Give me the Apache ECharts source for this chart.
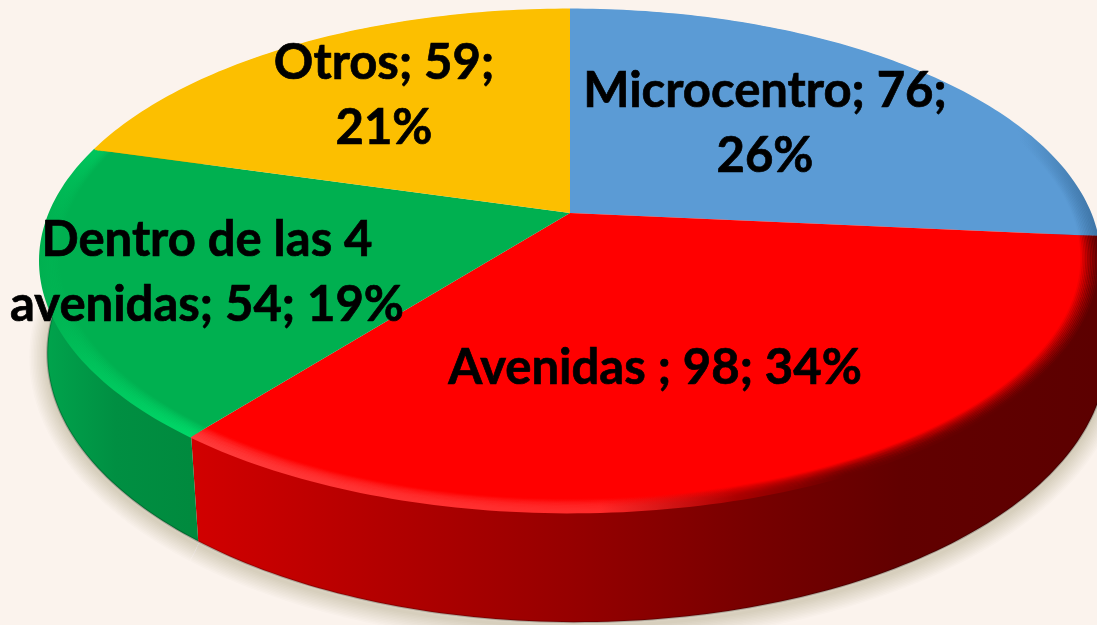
<!DOCTYPE html>
<html>
<head>
<meta charset="utf-8">
<title>Pie</title>
<style>
  html, body { margin: 0; padding: 0; background: #fbf3ed; }
  #chart { width: 1097px; height: 625px; }
</style>
<script src="https://cdn.jsdelivr.net/npm/echarts@6/dist/echarts.min.js"></script>
</head>
<body>
<div id="chart"></div>
<script>
// datos
const categories = ["Microcentro", "Avenidas ", "Dentro de las 4 avenidas", "Otros"];
const values = [76, 98, 54, 59];
const lineBreaks = ["76;", null, "las 4", "59;"];

// colores
const topColors = ["#5b9bd5", "#ff0000", "#00b050", "#fcbf00"];
const wallStops = [
  [[0, "#3f76a8"], [1, "#3f76a8"]],
  [[0, "#d20000"], [0.2, "#b40000"], [0.42, "#960000"], [0.6, "#7a0000"], [0.78, "#620000"], [1, "#5c0000"]],
  [[0, "#00a54d"], [0.5, "#008f42"], [1, "#008a3e"]],
  [[0, "#c99800"], [1, "#c99800"]]
];
const rimStops = [
  [[0, "#5b9bd5"], [0.85, "#5b9bd5"], [1, "#3f76a8"]],
  [[0, "#ff3a3a"], [0.45, "#ff2a2a"], [0.6, "#a80000"], [0.72, "#6a0000"], [1, "#5c0000"]],
  [[0, "#00b050"], [0.35, "#00c45c"], [1, "#00d868"]],
  [[0, "#fcbf00"], [1, "#fcbf00"]]
];
const labelPos = [[765, 124], [655, 368], [207, 273], [384, 96]];

// proyeccion del disco en perspectiva
const cx = 570, cy = 213, rx = 520, ry = 242, persp = 0.191, depth = 89, shiftX = 7;
const total = values.reduce((a, b) => a + b, 0);

function project(deg, r, down) {
  const t = deg * Math.PI / 180;
  const X = Math.sin(t) * r, Y = Math.cos(t) * r;
  const w = 1 + persp * Y;
  return [cx + rx * X / w + (down ? shiftX : 0), cy - ry * Y / w + (down ? depth / w : 0)];
}
function sliceAngles(i) {
  const before = values.slice(0, i).reduce((a, b) => a + b, 0);
  return [before / total * 360, (before + values[i]) / total * 360];
}
function arc(i, r, down) {
  const [a0, a1] = sliceAngles(i);
  const pts = [];
  const n = Math.ceil(a1 - a0);
  for (let k = 0; k <= n; k++) {
    pts.push(project(a0 + (a1 - a0) * k / n, r, down));
  }
  return pts;
}
function pointsGradient(pts, stops) {
  const xs = pts.map(p => p[0]);
  return new echarts.graphic.LinearGradient(
    Math.min(...xs), 0, Math.max(...xs), 0,
    stops.map(s => ({ offset: s[0], color: s[1] })),
    true
  );
}

// sombra suave debajo de la torta
function renderShadow(params) {
  const i = params.dataIndex;
  const bottomArc = arc(i, 1, true);
  const children = [];
  for (let k = 1; k <= 12; k++) {
    children.push({
      type: "polyline",
      y: 4,
      shape: { points: bottomArc },
      style: { fill: null, stroke: "rgba(70,45,30,0.014)", lineWidth: k * 3 }
    });
  }
  return { type: "group", children: children };
}

function renderWall(params) {
  const i = params.dataIndex;
  const topArc = arc(i, 1, false);
  const bottomArc = arc(i, 1, true);
  const grad = pointsGradient(topArc, wallStops[i]);
  return {
    type: "group",
    children: [
      {
        type: "polygon",
        shape: { points: topArc.concat(bottomArc.slice().reverse()) },
        style: { fill: grad }
      },
      {
        type: "polyline",
        shape: { points: bottomArc },
        style: { fill: null, stroke: "rgba(0,0,0,0.22)", lineWidth: 2 }
      }
    ]
  };
}

function renderTop(params) {
  const i = params.dataIndex;
  const outer = arc(i, 1, false);
  const children = [{
    type: "polygon",
    shape: { points: [[cx, cy]].concat(outer) },
    style: { fill: topColors[i] }
  }];
  // bisel del borde, varias pasadas para que quede suave
  const grad = pointsGradient(outer, rimStops[i]);
  const passes = 12;
  for (let k = passes - 1; k >= 0; k--) {
    children.push({
      type: "polyline",
      shape: { points: arc(i, 1 - k * 0.003, false) },
      style: { fill: null, stroke: grad, lineWidth: 2.5, opacity: 1 - k / passes }
    });
  }
  return { type: "group", children: children };
}

function renderLabel(params, api) {
  const i = params.dataIndex;
  const v = api.value(0);
  let text = categories[i] + "; " + v + "; " + Math.round(v / total * 100) + "%";
  if (lineBreaks[i]) text = text.replace(lineBreaks[i] + " ", lineBreaks[i] + "\n");
  return {
    type: "text",
    style: {
      x: labelPos[i][0],
      y: labelPos[i][1],
      text: text,
      fill: "#000",
      stroke: "#000",
      lineWidth: 0.7,
      font: "bold 49px Lato",
      lineHeight: 65,
      align: "center",
      verticalAlign: "middle"
    }
  };
}

const chart = echarts.init(document.getElementById("chart"));
const layer = fn => ({ type: "custom", coordinateSystem: "none", data: values, renderItem: fn, silent: true });
chart.setOption({
  backgroundColor: "#fbf3ed",
  animation: false,
  series: [layer(renderShadow), layer(renderWall), layer(renderTop), layer(renderLabel)]
});
</script>
</body>
</html>
